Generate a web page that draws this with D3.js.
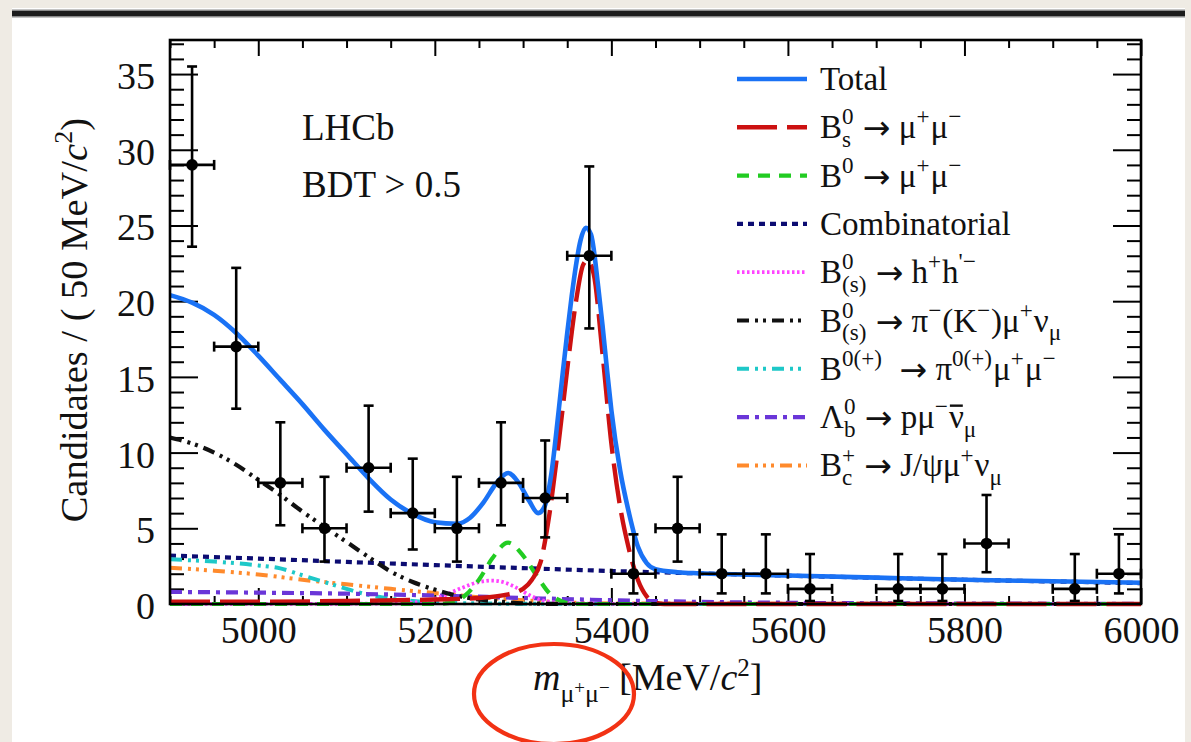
<!DOCTYPE html>
<html>
<head>
  <meta charset="UTF-8">
  <title>LHCb m(mu mu) fit, BDT &gt; 0.5</title>
  <script src="https://d3js.org/d3.v7.min.js"></script>
  <style>
    body { margin: 0; background: #efebe4; }
    text { font-family: "Liberation Serif", "Times New Roman", serif; fill: #111; white-space: pre; }
    .axis line { stroke: #000; stroke-width: 2px; }
    .axis text { font-size: 38px; fill: #111; }
    .axis .domain { display: none; }
  </style>
</head>
<body>
<svg id="chart" width="1191" height="742"></svg>
<script>
// ---- data ----
// bin centres (50 MeV bins), counts and Poisson error bar ends
var binCenters = [4925, 4975, 5025, 5075, 5125, 5175, 5225, 5275, 5325, 5375, 5425, 5475, 5525, 5575, 5625, 5725, 5775, 5825, 5925, 5975];
var counts     = [29, 17, 8, 5, 9, 6, 5, 8, 7, 23, 2, 5, 2, 2, 1, 1, 1, 4, 1, 2];
var errLow     = [23.6, 12.9, 5.2, 2.8, 6.1, 3.6, 2.8, 5.2, 4.4, 18.2, 0.7, 2.8, 0.7, 0.7, 0.2, 0.2, 0.2, 2.1, 0.2, 0.7];
var errHigh    = [35.5, 22.2, 12.0, 8.4, 13.1, 9.6, 8.4, 12.0, 10.8, 28.9, 4.6, 8.4, 4.6, 4.6, 3.3, 3.3, 3.3, 7.2, 3.3, 4.6];

// fit curves, [mass, candidates]
var totalFit = [[4900,20.4],[4925,19.9],[4950,19.1],[4975,17.9],[5000,16.4],[5025,14.8],[5050,13.2],[5075,11.5],[5100,9.9],[5125,8.3],[5150,6.9],[5175,5.95],[5200,5.4],[5225,5.3],[5240,5.7],[5255,6.7],[5270,8.0],[5283,8.65],[5295,8.0],[5307,6.8],[5317,6.0],[5324,6.4],[5332,8.6],[5340,12.6],[5345,15.3],[5350,17.9],[5355,20.3],[5360,22.4],[5365,24.0],[5371,24.85],[5377,24.4],[5385,21.0],[5390,18.4],[5395,15.5],[5400,12.8],[5410,8.8],[5420,6.0],[5430,3.8],[5440,2.7],[5450,2.3],[5475,2.1],[5500,2.03],[5600,1.88],[5700,1.74],[5800,1.6],[5900,1.5],[6000,1.4]];
var bsFit = [[4900,0.15],[5000,0.15],[5100,0.2],[5200,0.3],[5250,0.4],[5280,0.6],[5300,1.0],[5310,1.6],[5320,2.8],[5330,6.0],[5340,10.5],[5350,15.5],[5360,20.0],[5368,22.4],[5373,22.7],[5380,21.8],[5390,16.5],[5400,10.6],[5410,6.4],[5420,3.6],[5430,1.6],[5440,0.5],[5450,0.1],[5460,0],[6000,0]];
var bdFit = [[4900,0],[5200,0],[5220,0.1],[5235,0.6],[5250,1.6],[5265,3.0],[5283,4.05],[5300,3.2],[5315,1.9],[5330,0.7],[5345,0.15],[5360,0],[6000,0]];
var combFit = [[4900,3.2],[5000,3.0],[5100,2.78],[5200,2.57],[5300,2.37],[5400,2.18],[5500,2.02],[5600,1.87],[5700,1.73],[5800,1.6],[5900,1.49],[6000,1.38]];
var hhFit = [[4900,0],[5150,0.03],[5190,0.2],[5210,0.55],[5230,1.05],[5250,1.45],[5265,1.55],[5280,1.4],[5295,1.0],[5310,0.5],[5325,0.2],[5350,0.05],[5400,0.01],[6000,0]];
var pimunuFit = [[4900,11.0],[4925,10.6],[4950,10.0],[4975,9.2],[5000,8.2],[5025,7.2],[5050,6.1],[5075,5.1],[5100,4.1],[5125,3.1],[5150,2.15],[5175,1.45],[5200,0.95],[5225,0.55],[5250,0.3],[5275,0.15],[5300,0.05],[5350,0],[6000,0]];
var pimumuFit = [[4900,2.95],[4950,2.8],[5000,2.55],[5025,2.35],[5050,1.9],[5075,1.45],[5100,1.0],[5125,0.6],[5150,0.35],[5175,0.2],[5200,0.1],[5250,0.04],[5300,0.01],[6000,0]];
var lambdaFit = [[4900,0.8],[5000,0.75],[5100,0.68],[5200,0.56],[5300,0.4],[5400,0.25],[5500,0.14],[5600,0.08],[5800,0.03],[6000,0.01]];
var bcFit = [[4900,2.4],[4950,2.2],[5000,1.95],[5050,1.6],[5100,1.3],[5150,1.0],[5200,0.72],[5250,0.45],[5300,0.25],[5350,0.1],[5400,0.04],[6000,0]];

var xMajorTicks = [5000, 5200, 5400, 5600, 5800, 6000];
var yMajorTicks = [0, 5, 10, 15, 20, 25, 30, 35];

// ---- page ----
var svg = d3.select("#chart");

// slide background: white panel with a dark rule on top
svg.append("rect").attr("x", 12).attr("y", 8).attr("width", 1173).attr("height", 734).attr("fill", "#fff");
svg.append("rect").attr("x", 12).attr("y", 9.5).attr("width", 1173).attr("height", 8).attr("fill", "#8a8a8a");
svg.append("rect").attr("x", 12).attr("y", 11).attr("width", 1173).attr("height", 5).attr("fill", "#1c1c1c");

var x = d3.scaleLinear().domain([4900, 6000]).range([170, 1141]);
var y = d3.scaleLinear().domain([0, 37.25]).range([604, 40]);

var xMinor = d3.range(4900, 6001, 50).filter(function(v) { return xMajorTicks.indexOf(v) < 0; });
var yMinor = d3.range(0, 38, 1).filter(function(v) { return v % 5 !== 0; });

// ticks on all four sides, pointing inwards
function addAxis(axis, tx, ty) {
  return svg.append("g").attr("class", "axis").attr("transform", "translate(" + tx + "," + ty + ")").call(axis);
}
var xLab = addAxis(d3.axisBottom(x).tickValues(xMajorTicks).tickSize(-16).tickPadding(12).tickFormat(d3.format("d")), 0, 604);
addAxis(d3.axisBottom(x).tickValues(xMinor).tickSize(-8).tickFormat(""), 0, 604);
addAxis(d3.axisTop(x).tickValues(xMajorTicks).tickSize(-16).tickFormat(""), 0, 40);
addAxis(d3.axisTop(x).tickValues(xMinor).tickSize(-8).tickFormat(""), 0, 40);
var yLab = addAxis(d3.axisLeft(y).tickValues(yMajorTicks).tickSize(-28).tickPadding(15).tickFormat(d3.format("d")), 170, 0);
addAxis(d3.axisLeft(y).tickValues(yMinor).tickSize(-14).tickFormat(""), 170, 0);
addAxis(d3.axisRight(y).tickValues(yMajorTicks).tickSize(-28).tickFormat(""), 1141, 0);
addAxis(d3.axisRight(y).tickValues(yMinor).tickSize(-14).tickFormat(""), 1141, 0);
yLab.selectAll("text").attr("dy", "0.38em");
xLab.selectAll("text").attr("dy", "0.72em");

// fit components
var line = d3.line().x(function(d) { return x(d[0]); }).y(function(d) { return y(d[1]); }).curve(d3.curveMonotoneX);
var ddot = "12,6,3,5,3,6";
var components = [
  { data: combFit,   color: "#0c0c72", width: 4.2, dash: "6,5" },
  { data: bcFit,     color: "#ff8a2c", width: 4,   dash: "12,6,3,5,3,5,3,6" },
  { data: pimumuFit, color: "#1ec8c8", width: 4,   dash: ddot },
  { data: lambdaFit, color: "#6a36d8", width: 4.2, dash: "12,6,4,6" },
  { data: hhFit,     color: "#ff44ff", width: 3.8, dash: "2.5,2.5" },
  { data: pimunuFit, color: "#111111", width: 4.2, dash: ddot },
  { data: bdFit,     color: "#22cc22", width: 4.2, dash: "12,9" },
  { data: bsFit,     color: "#cc1111", width: 4.4, dash: "40,10" },
  { data: totalFit,  color: "#1a72f5", width: 4.6, dash: null }
];
var plot = svg.append("g");
components.forEach(function(c) {
  plot.append("path").datum(c.data)
    .attr("d", line)
    .attr("fill", "none")
    .attr("stroke", c.color)
    .attr("stroke-width", c.width)
    .attr("stroke-dasharray", c.dash);
});

// data points with error bars
var pts = plot.append("g").attr("stroke", "#000").attr("stroke-width", 2.6);
binCenters.forEach(function(c, i) {
  var cx = x(c), cy = y(counts[i]);
  var xl = x(c - 25), xr = x(c + 25), yl = y(errLow[i]), yh = y(errHigh[i]);
  pts.append("line").attr("x1", cx).attr("x2", cx).attr("y1", yl).attr("y2", yh);
  pts.append("line").attr("x1", xl).attr("x2", xr).attr("y1", cy).attr("y2", cy);
  pts.append("line").attr("x1", cx - 5).attr("x2", cx + 5).attr("y1", yl).attr("y2", yl);
  pts.append("line").attr("x1", cx - 5).attr("x2", cx + 5).attr("y1", yh).attr("y2", yh);
  pts.append("line").attr("x1", xl).attr("x2", xl).attr("y1", cy - 5).attr("y2", cy + 5);
  pts.append("line").attr("x1", xr).attr("x2", xr).attr("y1", cy - 5).attr("y2", cy + 5);
  pts.append("circle").attr("cx", cx).attr("cy", cy).attr("r", 5.8).attr("fill", "#000").attr("stroke", "none");
});

// frame
svg.append("rect").attr("x", 170).attr("y", 40).attr("width", 971).attr("height", 564)
  .attr("fill", "none").attr("stroke", "#000").attr("stroke-width", 2.6);

// text with super/subscripts, pieces placed one after another
function richText(g, x0, y0, size, parts) {
  var cx = x0;
  parts.forEach(function(p) {
    if (p.sup !== undefined || p.sub !== undefined) {
      var w = 0;
      if (p.sup !== undefined) {
        var s = g.append("text").attr("x", cx).attr("y", y0 - size * 0.42).style("font-size", (size * 0.7) + "px").text(p.sup);
        w = Math.max(w, s.node().getComputedTextLength());
      }
      if (p.sub !== undefined) {
        var b = g.append("text").attr("x", cx).attr("y", y0 + size * 0.27).style("font-size", (size * 0.7) + "px").text(p.sub);
        w = Math.max(w, b.node().getComputedTextLength());
      }
      cx += w + 1;
    } else {
      var sz = size * (p.s || 1);
      var t = g.append("text").attr("x", cx).attr("y", y0 + (p.dy || 0)).style("font-size", sz + "px").text(p.t);
      if (p.it) t.style("font-style", "italic");
      if (p.arrow) t.style("font-family", "'DejaVu Sans', sans-serif").attr("y", y0 + 1);
      var tw = t.node().getComputedTextLength();
      if (p.bar) {
        g.append("line").attr("x1", cx + 1).attr("x2", cx + tw - 1)
          .attr("y1", y0 - size * 0.68).attr("y2", y0 - size * 0.68)
          .attr("stroke", "#111").attr("stroke-width", 2.4);
      }
      cx += tw;
    }
  });
  return cx;
}

// legend
var AR = { t: "\u2192", arrow: true };
var legendLabels = [
  [{ t: "Total" }],
  [{ t: "B" }, { sup: "0", sub: "s" }, { t: " " }, AR, { t: " \u03bc" }, { sup: "+" }, { t: "\u03bc" }, { sup: "\u2212" }],
  [{ t: "B" }, { sup: "0" }, { t: " " }, AR, { t: " \u03bc" }, { sup: "+" }, { t: "\u03bc" }, { sup: "\u2212" }],
  [{ t: "Combinatorial" }],
  [{ t: "B" }, { sup: "0", sub: "(s)" }, { t: " " }, AR, { t: " h" }, { sup: "+" }, { t: "h" }, { sup: "'\u2212" }],
  [{ t: "B" }, { sup: "0", sub: "(s)" }, { t: " " }, AR, { t: " \u03c0" }, { sup: "\u2212" }, { t: "(K" }, { sup: "\u2212" }, { t: ")\u03bc" }, { sup: "+" }, { t: "\u03bd" }, { sub: "\u03bc" }],
  [{ t: "B" }, { sup: "0(+)" }, { t: "  " }, AR, { t: " \u03c0" }, { sup: "0(+)" }, { t: "\u03bc" }, { sup: "+" }, { t: "\u03bc" }, { sup: "\u2212" }],
  [{ t: "\u039b" }, { sup: "0", sub: "b" }, { t: " " }, AR, { t: " p\u03bc" }, { sup: "\u2212" }, { t: "\u03bd", bar: true }, { sub: "\u03bc" }],
  [{ t: "B" }, { sup: "+", sub: "c" }, { t: " " }, AR, { t: " J/\u03c8\u03bc" }, { sup: "+" }, { t: "\u03bd" }, { sub: "\u03bc" }]
];
var legendOrder = [8, 7, 6, 0, 4, 5, 2, 3, 1]; // index into components for each legend row
var legend = svg.append("g");
legendLabels.forEach(function(parts, i) {
  var c = components[legendOrder[i]];
  var ry = 79 + i * 48.3;
  legend.append("line").attr("x1", 737).attr("x2", 807).attr("y1", ry).attr("y2", ry)
    .attr("stroke", c.color).attr("stroke-width", c.width).attr("stroke-dasharray", c.dash);
  richText(legend, 820, ry + 11, 33, parts);
});

// experiment labels
svg.append("text").attr("x", 302).attr("y", 140).style("font-size", "37px").text("LHCb");
svg.append("text").attr("x", 302).attr("y", 197).style("font-size", "37px").text("BDT > 0.5");

// y title
var yt = svg.append("text").attr("transform", "translate(87,118) rotate(-90)")
  .attr("text-anchor", "end").style("font-size", "38.5px");
yt.append("tspan").text("Candidates / ( 50 MeV/");
yt.append("tspan").style("font-style", "italic").text("c");
yt.append("tspan").attr("dy", -15).style("font-size", "26px").text("2");
yt.append("tspan").attr("dy", 15).text(")");

// x title
richText(svg.append("g"), 533, 690, 38, [
  { t: "m", it: true },
  { t: "\u03bc", s: 0.68, dy: 12 }, { t: "+", s: 0.5, dy: 4 },
  { t: "\u03bc", s: 0.68, dy: 12 }, { t: "\u2212", s: 0.5, dy: 4 },
  { t: " [MeV/" }, { t: "c", it: true }, { t: "2", s: 0.66, dy: -14 }, { t: "]" }
]);

// hand-drawn style highlight round the mass symbol
svg.append("ellipse").attr("cx", 554).attr("cy", 694).attr("rx", 80).attr("ry", 50)
  .attr("fill", "none").attr("stroke", "#f23214").attr("stroke-width", 4.2);
</script>
</body>
</html>
